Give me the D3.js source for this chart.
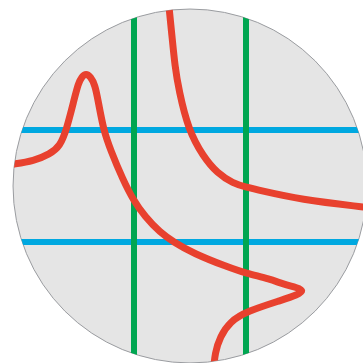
<!DOCTYPE html>
<html>
<head>
<meta charset="utf-8">
<script src="https://cdn.jsdelivr.net/npm/d3@7"></script>
<style>
  html, body { margin: 0; padding: 0; background: #fff; }
  #svg-container { width: 363px; height: 363px; }
</style>
</head>
<body>
<div id="svg-container"></div>
<script>
// grid lines (data units)
const vLines = [-1, 1];
const hLines = [-1, 1];
const circleRadius = 3.16;

// red curves, [x, y] in data units
const curveA = [
  [-3.393, 0.357], [-3.125, 0.393], [-2.798, 0.446], [-2.5, 0.571], [-2.321, 0.714],
  [-2.207, 1.0], [-2.071, 1.536], [-1.995, 1.834], [-1.929, 1.955], [-1.857, 2.009],
  [-1.777, 1.955], [-1.696, 1.804], [-1.643, 1.536], [-1.545, 1.0], [-1.419, 0.643],
  [-1.195, 0.107], [-1.0125, -0.25], [-0.804, -0.548], [-0.536, -0.827], [-0.286, -1.005],
  [0.059, -1.202], [0.655, -1.441], [1.0, -1.559], [1.429, -1.661], [1.666, -1.755],
  [1.911, -1.813], [2.036, -1.866], [1.911, -1.946], [1.666, -2.03], [1.0125, -2.2375],
  [0.714, -2.423], [0.536, -2.691], [0.446, -2.982], [0.42, -3.286]
];
const curveB = [
  [-0.393, 3.411], [-0.37, 3.143], [-0.327, 2.732], [-0.268, 2.125], [-0.2, 1.714],
  [-0.03, 1.0], [0.2375, 0.523], [0.4875, 0.227], [0.768, 0.048], [1.0125, -0.023],
  [1.25, -0.08], [1.964, -0.241], [3.089, -0.375], [3.214, -0.387]
];

const width = 363, height = 363;
const svg = d3.select("#svg-container").append("svg")
  .attr("width", width).attr("height", height);

// 56px per unit, origin at (190,186)
const xScale = d3.scaleLinear().domain([-1, 1]).range([134, 246]);
const yScale = d3.scaleLinear().domain([-1, 1]).range([242, 130]);
const rPx = xScale(circleRadius) - xScale(0);

svg.append("defs").append("clipPath").attr("id", "clip")
  .append("circle")
  .attr("cx", xScale(0)).attr("cy", yScale(0)).attr("r", rPx);

svg.append("circle")
  .attr("cx", xScale(0)).attr("cy", yScale(0)).attr("r", rPx)
  .attr("fill", "#e5e5e5")
  .attr("stroke", "#9a9ca0")
  .attr("stroke-width", 1);

const g = svg.append("g").attr("clip-path", "url(#clip)");

g.selectAll(".hline").data(hLines).enter().append("line")
  .attr("class", "hline")
  .attr("x1", 0).attr("x2", width)
  .attr("y1", d => yScale(d)).attr("y2", d => yScale(d))
  .attr("stroke", "#00a8e0").attr("stroke-width", 6);

g.selectAll(".vline").data(vLines).enter().append("line")
  .attr("class", "vline")
  .attr("y1", 0).attr("y2", height)
  .attr("x1", d => xScale(d)).attr("x2", d => xScale(d))
  .attr("stroke", "#00a651").attr("stroke-width", 6);

const line = d3.line()
  .x(d => xScale(d[0]))
  .y(d => yScale(d[1]))
  .curve(d3.curveBasis);

g.selectAll(".curve").data([curveA, curveB]).enter().append("path")
  .attr("class", "curve")
  .attr("d", line)
  .attr("fill", "none")
  .attr("stroke", "#e8412e")
  .attr("stroke-width", 7)
  .attr("stroke-linecap", "round")
  .attr("stroke-linejoin", "round");
</script>
</body>
</html>
